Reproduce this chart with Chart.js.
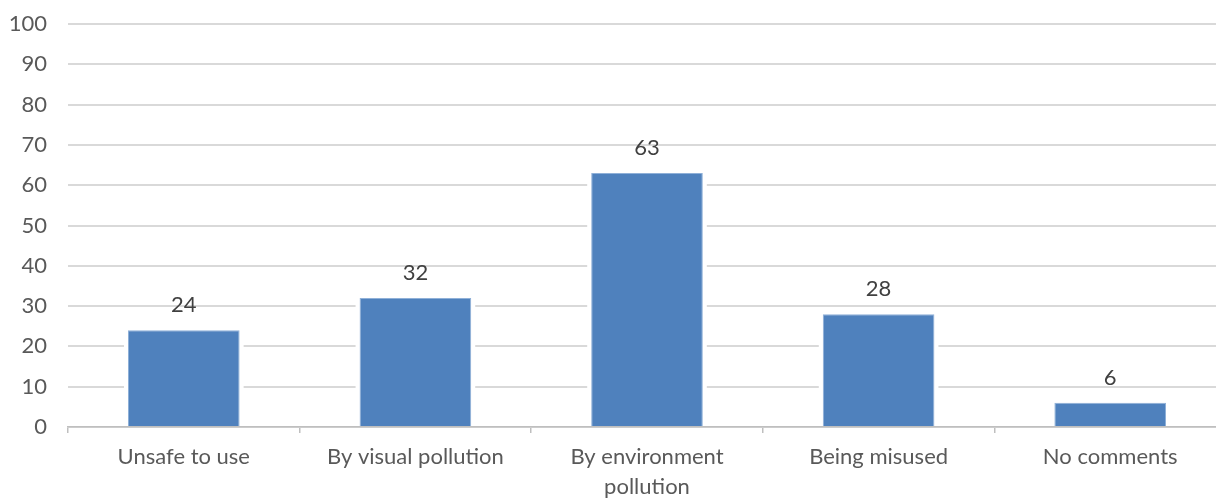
<!DOCTYPE html>
<html>
<head>
<meta charset="utf-8">
<script src="https://cdn.jsdelivr.net/npm/chart.js@4/dist/chart.umd.min.js"></script>
<style>
  html, body { margin: 0; padding: 0; background: #ffffff; overflow: hidden; }
  #wrap { width: 1226px; height: 499px; position: relative; }
</style>
</head>
<body>
<div id="wrap"><canvas id="chart"></canvas></div>
<script>
// Survey responses: share of respondents (%) per category
const categories = [
  'Unsafe to use',
  'By visual pollution',
  ['By environment', 'pollution'],
  'Being misused',
  'No comments'
];
const responseValues = [24, 32, 63, 28, 6];
const yTicks = [0, 10, 20, 30, 40, 50, 60, 70, 80, 90, 100];

const FONT = 'Lato, "Open Sans", "Liberation Sans", sans-serif';
const BAR_BLUE = '#4f81bd';

// White halo around each bar so the gridlines stop short of it
const barHalo = {
  id: 'barHalo',
  beforeDatasetsDraw(chart) {
    const ctx = chart.ctx;
    const meta = chart.getDatasetMeta(0);
    ctx.save();
    ctx.fillStyle = '#ffffff';
    meta.data.forEach(bar => {
      const w = bar.width;
      ctx.fillRect(bar.x - w / 2 - 4, bar.y - 4, w + 8, bar.base - bar.y + 3);
    });
    ctx.restore();
  }
};

// Value labels above each bar
const valueLabels = {
  id: 'valueLabels',
  afterDatasetsDraw(chart) {
    const ctx = chart.ctx;
    const meta = chart.getDatasetMeta(0);
    const data = chart.data.datasets[0].data;
    ctx.save();
    ctx.font = '22px ' + FONT;
    ctx.fillStyle = '#404040';
    ctx.textAlign = 'center';
    ctx.textBaseline = 'middle';
    meta.data.forEach((bar, i) => {
      ctx.fillText(String(data[i]), bar.x, bar.y - 25);
    });
    ctx.restore();
  }
};

new Chart(document.getElementById('chart'), {
  type: 'bar',
  data: {
    labels: categories,
    datasets: [{
      data: responseValues,
      backgroundColor: BAR_BLUE,
      borderColor: '#8fb0d8',
      borderWidth: 1,
      categoryPercentage: 1.0,
      barPercentage: 0.482
    }]
  },
  options: {
    responsive: true,
    maintainAspectRatio: false,
    animation: false,
    layout: { padding: { top: 24, right: 0, left: 0, bottom: 0 } },
    plugins: {
      legend: { display: false },
      tooltip: { enabled: false }
    },
    scales: {
      x: {
        offset: true,
        grid: {
          display: true,
          drawOnChartArea: false,
          drawTicks: true,
          tickLength: 6,
          offset: true,
          color: '#bfbfbf',
          lineWidth: 1.5
        },
        border: { display: true, color: '#bfbfbf', width: 1.5 },
        ticks: {
          color: '#595959',
          font: { family: FONT, size: 22, lineHeight: 1.36 },
          padding: 9,
          maxRotation: 0,
          autoSkip: false
        },
        afterFit(scale) {
          scale.height = 72;
          scale.paddingLeft = 0;
          scale.paddingRight = 0;
        }
      },
      y: {
        min: 0,
        max: 100,
        afterBuildTicks(scale) {
          scale.ticks = yTicks.map(v => ({ value: v }));
        },
        grid: {
          color: '#d9d9d9',
          lineWidth: 2,
          drawTicks: false
        },
        border: { display: false },
        ticks: {
          color: '#595959',
          font: { family: FONT, size: 22 },
          padding: 21
        },
        afterFit(scale) {
          scale.width = 68;
          scale.paddingTop = 0;
          scale.paddingBottom = 0;
        }
      }
    }
  },
  plugins: [barHalo, valueLabels]
});
</script>
</body>
</html>
